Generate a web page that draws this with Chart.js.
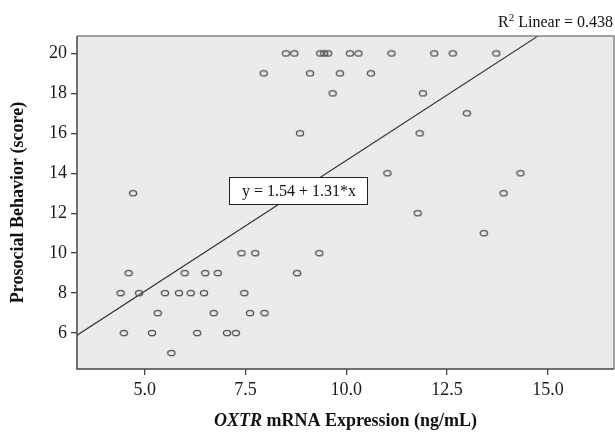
<!DOCTYPE html>
<html>
<head>
<meta charset="utf-8">
<script src="https://cdn.jsdelivr.net/npm/chart.js@4/dist/chart.umd.min.js"></script>
<style>
  html, body { margin: 0; padding: 0; background: #fff; }
  #wrap { width: 615px; height: 436px; position: relative; }
</style>
</head>
<body>
<div id="wrap"><canvas id="chart" width="615" height="436"></canvas></div>
<script>
  // OXTR mRNA expression (ng/mL) vs prosocial behaviour score
  const expr = [
    8.50, 8.71, 9.35, 9.45, 9.55, 10.09, 10.30, 11.12, 12.18, 12.64, 13.72,
    7.95, 9.10, 9.84, 10.61,
    9.66, 11.90,
    12.99,
    8.85, 11.82,
    11.02, 14.32,
    4.71, 13.90,
    11.77,
    13.41,
    7.40, 7.74, 9.33,
    4.60, 5.99, 6.50, 6.81, 8.78,
    4.40, 4.86, 5.50, 5.85, 6.14, 6.47, 7.47,
    5.32, 6.71, 7.61, 7.97,
    4.48, 5.18, 6.30, 7.04, 7.26,
    5.66
  ];
  const score = [
    20, 20, 20, 20, 20, 20, 20, 20, 20, 20, 20,
    19, 19, 19, 19,
    18, 18,
    17,
    16, 16,
    14, 14,
    13, 13,
    12,
    11,
    10, 10, 10,
    9, 9, 9, 9, 9,
    8, 8, 8, 8, 8, 8, 8,
    7, 7, 7, 7,
    6, 6, 6, 6, 6,
    5
  ];
  // fit line endpoints (y = 1.54 + 1.31*x), as drawn
  const fitX = [3.0, 15.0];
  const fitY = [5.47, 21.19];
  const xTicks = [5, 7.5, 10, 12.5, 15];
  const yTicks = [6, 8, 10, 12, 14, 16, 18, 20];

  const SERIF = "'Liberation Serif', 'DejaVu Serif', serif";

  // small open ellipse used as the marker
  const marker = document.createElement("canvas");
  marker.width = 10;
  marker.height = 8;
  (function () {
    const c = marker.getContext("2d");
    c.strokeStyle = "#4d4d4d";
    c.lineWidth = 1.3;
    c.beginPath();
    c.ellipse(5, 4, 3.6, 2.7, 0, 0, Math.PI * 2);
    c.stroke();
  })();

  const frame = {
    id: "frame",
    beforeDraw(chart) {
      const { ctx, chartArea: a } = chart;
      ctx.save();
      ctx.fillStyle = "#ebebeb";
      ctx.fillRect(a.left, a.top, a.right - a.left, a.bottom - a.top);
      ctx.restore();
    },
    afterDatasetsDraw(chart) {
      const { ctx, chartArea: a } = chart;
      ctx.save();
      // top / right lighter, axes darker
      ctx.strokeStyle = "#858585";
      ctx.lineWidth = 1.5;
      ctx.beginPath();
      ctx.moveTo(a.left, a.top);
      ctx.lineTo(a.right, a.top);
      ctx.lineTo(a.right, a.bottom);
      ctx.stroke();
      ctx.strokeStyle = "#444";
      ctx.beginPath();
      ctx.moveTo(a.left, a.top);
      ctx.lineTo(a.left, a.bottom);
      ctx.lineTo(a.right, a.bottom);
      ctx.stroke();

      // equation box
      ctx.fillStyle = "#fff";
      ctx.fillRect(229, 177, 139, 28);
      ctx.strokeStyle = "#222";
      ctx.lineWidth = 1;
      ctx.strokeRect(229.5, 177.5, 138, 27);
      ctx.fillStyle = "#111";
      ctx.font = "16px " + SERIF;
      ctx.textAlign = "center";
      ctx.textBaseline = "middle";
      ctx.fillText("y = 1.54 + 1.31*x", 299, 192);

      // R² label
      ctx.textAlign = "right";
      ctx.textBaseline = "alphabetic";
      ctx.font = "16px " + SERIF;
      const rest = " Linear = 0.438";
      ctx.fillText(rest, 613, 27);
      const wRest = ctx.measureText(rest).width;
      ctx.font = "11px " + SERIF;
      const w2 = ctx.measureText("2").width;
      ctx.fillText("2", 613 - wRest, 21);
      ctx.font = "16px " + SERIF;
      ctx.fillText("R", 613 - wRest - w2, 27);

      // x title with italic gene name
      ctx.textAlign = "left";
      ctx.textBaseline = "middle";
      const it = "OXTR", rm = " mRNA Expression (ng/mL)";
      ctx.font = "italic bold 18px " + SERIF;
      const wi = ctx.measureText(it).width;
      ctx.font = "bold 18px " + SERIF;
      const wr = ctx.measureText(rm).width;
      const cx = (a.left + a.right) / 2;
      const x0 = cx - (wi + wr) / 2;
      ctx.font = "italic bold 18px " + SERIF;
      ctx.fillText(it, x0, 421);
      ctx.font = "bold 18px " + SERIF;
      ctx.fillText(rm, x0 + wi, 421);

      // y title
      ctx.translate(18, (a.top + a.bottom) / 2);
      ctx.rotate(-Math.PI / 2);
      ctx.textAlign = "center";
      ctx.fillText("Prosocial Behavior (score)", 0, 0);
      ctx.restore();
    }
  };

  new Chart(document.getElementById("chart"), {
    type: "scatter",
    data: {
      datasets: [
        {
          type: "line",
          data: fitX.map((x, i) => ({ x: x, y: fitY[i] })),
          borderColor: "#333",
          borderWidth: 1.1,
          pointRadius: 0,
          fill: false,
          order: 2
        },
        {
          data: expr.map((x, i) => ({ x: x, y: score[i] })),
          pointStyle: marker,
          pointRadius: 4,
          order: 1
        }
      ]
    },
    options: {
      responsive: false,
      animation: false,
      layout: { autoPadding: false, padding: { top: 36, right: 1, left: 0, bottom: 0 } },
      plugins: { legend: { display: false }, tooltip: { enabled: false } },
      scales: {
        x: {
          type: "linear",
          min: 3.32,
          max: 16.64,
          afterBuildTicks(s) { s.ticks = xTicks.map(v => ({ value: v })); },
          afterFit(s) { s.height = 67; s.paddingLeft = 0; s.paddingRight = 0; },
          border: { display: false },
          grid: { drawOnChartArea: false, drawTicks: true, tickLength: 6, color: "#444", lineWidth: 1.3 },
          ticks: {
            color: "#1a1a1a",
            font: { family: SERIF, size: 18 },
            padding: 4,
            maxRotation: 0,
            callback: v => v.toFixed(1)
          }
        },
        y: {
          type: "linear",
          min: 4.2,
          max: 20.87,
          afterBuildTicks(s) { s.ticks = yTicks.map(v => ({ value: v })); },
          afterFit(s) { s.width = 77; s.paddingTop = 0; s.paddingBottom = 0; },
          border: { display: false },
          grid: { drawOnChartArea: false, drawTicks: true, tickLength: 6, color: "#444", lineWidth: 1.3 },
          ticks: {
            color: "#1a1a1a",
            font: { family: SERIF, size: 18 },
            padding: 4
          }
        }
      }
    },
    plugins: [frame]
  });
</script>
</body>
</html>
